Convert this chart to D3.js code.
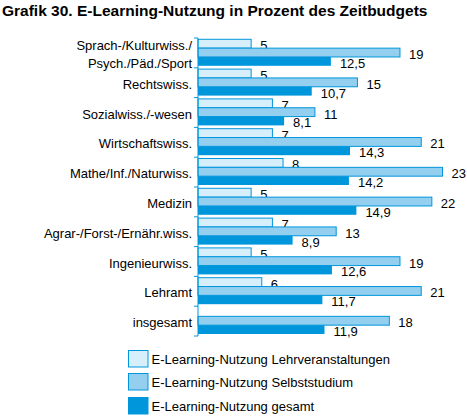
<!DOCTYPE html>
<html>
    <head>
        <meta charset="utf-8">
        <style>
            body { margin: 0; background: white; }
            text { font-family: "Liberation Sans", Arial, sans-serif; fill: black; }
            .titre { font-weight: bold; font-size: 15.5px; }
            .cat { font-size: 13px; }
            .val { font-size: 13px; }
            .leg { font-size: 13px; }
        </style>
    </head>
    <body>
        <div id="plateau"></div>
        <script src="https://cdn.jsdelivr.net/npm/d3@7"></script>
        <script>

//////////////////// donnees ////////////////////
let categories = [
    ['Sprach-/Kulturwiss./', 'Psych./Päd./Sport'],
    ['Rechtswiss.'],
    ['Sozialwiss./-wesen'],
    ['Wirtschaftswiss.'],
    ['Mathe/Inf./Naturwiss.'],
    ['Medizin'],
    ['Agrar-/Forst-/Ernähr.wiss.'],
    ['Ingenieurwiss.'],
    ['Lehramt'],
    ['insgesamt']
];
let lehrveranstaltungen = [5, 5, 7, 7, 8, 5, 7, 5, 6, null];
let selbststudium = [19, 15, 11, 21, 23, 22, 13, 19, 21, 18];
let gesamt = [12.5, 10.7, 8.1, 14.3, 14.2, 14.9, 8.9, 12.6, 11.7, 11.9];
let series_noms = [
    'E-Learning-Nutzung Lehrveranstaltungen',
    'E-Learning-Nutzung Selbststudium',
    'E-Learning-Nutzung gesamt'
];

//////////////////// style ////////////////////
let W = 467;
let H = 416;
let BLEU = '#0096dc';
let remplissages = ['#d7effb', '#94cfef', BLEU];

let series = [lehrveranstaltungen, selbststudium, gesamt];

let svg = d3.select('#plateau').append('svg')
    .attr('width', W)
    .attr('height', H);

svg.append('text')
    .classed('titre', true)
    .attr('x', 2)
    .attr('y', 16)
    .text('Grafik 30. E-Learning-Nutzung in Prozent des Zeitbudgets');

let idx_cats = categories.map((c, i) => i);

let y = d3.scaleBand()
    .domain(idx_cats)
    .range([38, 336])
    .paddingInner(0);

let y_serie = d3.scaleBand()
    .domain([0, 1, 2])
    .range([1.3, y.bandwidth() - 2]);

let x = d3.scaleLinear()
    .domain([0, 23])
    .range([198, 198 + 23 * 10.63]);

// barres
series.forEach((valeurs, s) => {
    valeurs.forEach((v, i) => {
        if (v === null) return;
        let y0 = y(i) + y_serie(s);
        svg.append('rect')
            .attr('x', x(0))
            .attr('y', y0)
            .attr('width', x(v) - x(0))
            .attr('height', y_serie.bandwidth())
            .attr('fill', remplissages[s])
            .attr('stroke', s < 2 ? BLEU : 'none')
            .attr('stroke-width', 1);
        svg.append('text')
            .classed('val', true)
            .attr('x', x(v) + 9)
            .attr('y', y0 + y_serie.bandwidth() / 2 + 2)
            .attr('dominant-baseline', 'central')
            .text(String(v).replace('.', ','));
    });
});

// axe
let g_axe = svg.append('g');
g_axe.append('line')
    .attr('x1', x(0)).attr('x2', x(0))
    .attr('y1', y.range()[0]).attr('y2', y.range()[1])
    .attr('stroke', BLEU);
idx_cats.concat([categories.length]).forEach(i => {
    let yy = i < categories.length ? y(i) : y.range()[1];
    g_axe.append('line')
        .attr('x1', x(0) - 4).attr('x2', x(0))
        .attr('y1', yy).attr('y2', yy)
        .attr('stroke', BLEU);
});

// libelles categories
categories.forEach((lignes, i) => {
    let milieu = y(i) + y.bandwidth() / 2 + 1.5;
    let ecart = 18.6;
    lignes.forEach((l, k) => {
        svg.append('text')
            .classed('cat', true)
            .attr('x', 192)
            .attr('y', milieu + (k - (lignes.length - 1) / 2) * ecart)
            .attr('text-anchor', 'end')
            .attr('dominant-baseline', 'central')
            .text(l);
    });
});

// legende
let leg_y = [350, 373, 397];
series_noms.forEach((nom, s) => {
    svg.append('rect')
        .attr('x', 128.5)
        .attr('y', leg_y[s] + 0.5)
        .attr('width', 19.5)
        .attr('height', 16.5)
        .attr('fill', remplissages[s])
        .attr('stroke', BLEU);
    svg.append('text')
        .classed('leg', true)
        .attr('x', 151.5)
        .attr('y', leg_y[s] + 9.5)
        .attr('dominant-baseline', 'central')
        .text(nom);
});

        </script>
    </body>
</html>
